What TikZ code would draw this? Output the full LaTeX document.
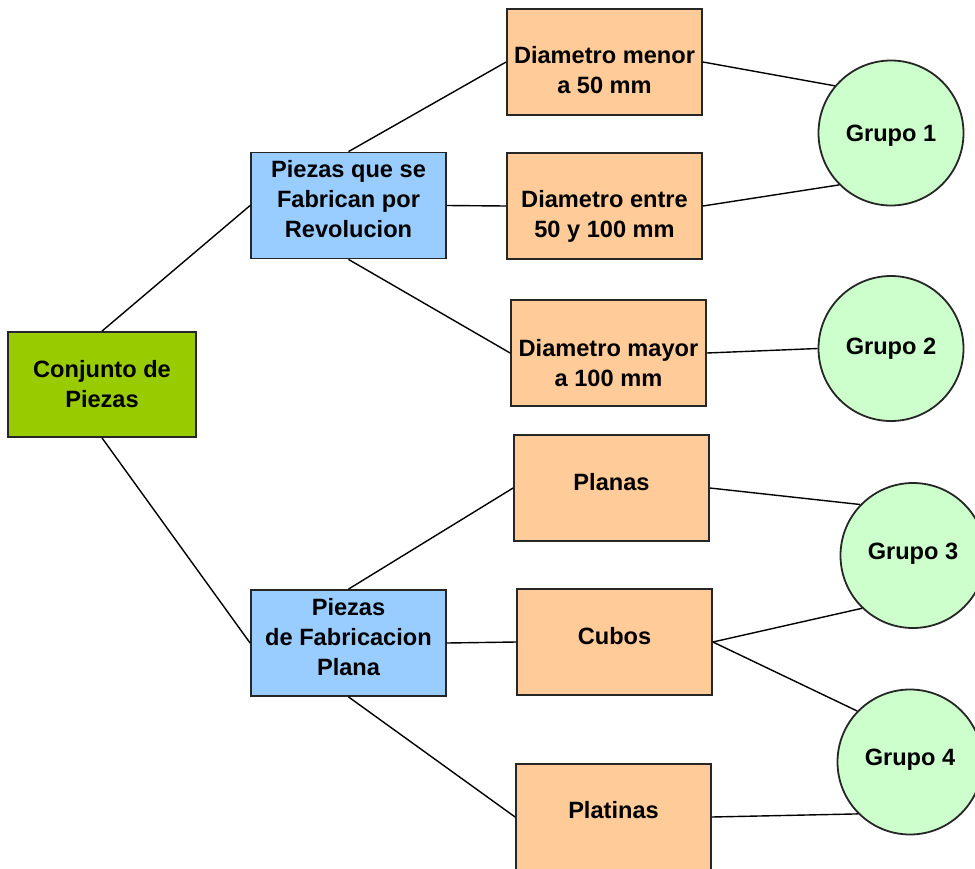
\documentclass[tikz,border=0pt]{standalone}
\usepackage{fontspec}
\setmainfont{Liberation Sans}
\usepackage{xcolor}
\definecolor{verde}{HTML}{99CC00}
\definecolor{azul}{HTML}{99CCFF}
\definecolor{naranja}{HTML}{FFCC99}
\definecolor{menta}{HTML}{CCFFCC}
% texto de una caja, subido o bajado un poco
\newcommand{\cajatxt}[2]{\raisebox{#1}[\height][\depth]{\begin{tabular}{@{}c@{}}#2\end{tabular}}}

\begin{document}
\begin{tikzpicture}[x=0.5pt,y=-0.5pt,
  caja/.style={draw=black!85,line width=0.9pt,inner sep=0pt,
    font=\fontsize{11.8}{15}\selectfont\bfseries},
  raiz/.style={caja,fill=verde,minimum width=94pt,minimum height=52.5pt},
  tipo/.style={caja,fill=azul,minimum width=97.5pt,minimum height=53pt},
  clase/.style={caja,fill=naranja,minimum width=97.5pt,minimum height=53pt},
  grupo/.style={caja,circle,fill=menta,minimum size=145pt*0.5},
  linea/.style={line width=0.7pt}]
\useasboundingbox (0,0) rectangle (975,868);

% raiz
\node[raiz] (conj) at (102,384.5) {\cajatxt{-1.2pt}{Conjunto de\\Piezas}};

% tipos de fabricacion
\node[tipo] (rev) at (348.5,205.5) {\cajatxt{1.8pt}{Piezas que se\\Fabrican por\\Revolucion}};
\node[tipo] (plana) at (348.5,643) {\cajatxt{2pt}{Piezas\\de Fabricacion\\Plana}};

% clases de piezas
\node[clase] (menor) at (604.5,62) {\cajatxt{-5.2pt}{Diametro menor\\a 50 mm}};
\node[clase] (entre) at (604.5,206) {\cajatxt{-5.2pt}{Diametro entre\\50 y 100 mm}};
\node[clase] (mayor) at (608.5,353) {\cajatxt{-6pt}{Diametro mayor\\a 100 mm}};
\node[clase] (planas) at (611.5,488) {\cajatxt{1.8pt}{Planas}};
\node[clase] (cubos) at (614.5,642) {\cajatxt{1.8pt}{Cubos}};
\node[clase] (platinas) at (613.5,817) {\cajatxt{2.3pt}{Platinas}};

% grupos
\node[grupo] (g1) at (891,133) {\cajatxt{-1.2pt}{Grupo 1}};
\node[grupo] (g2) at (891,348.5) {\cajatxt{-0.2pt}{Grupo 2}};
\node[grupo] (g3) at (913,555.5) {\cajatxt{1pt}{Grupo 3}};
\node[grupo] (g4) at (910,762) {\cajatxt{1.3pt}{Grupo 4}};

% raiz a tipos
\draw[linea] (conj.north)--(rev.west);
\draw[linea] (conj.south)--(plana.west);

% tipos a clases
\draw[linea] (rev.north)--(menor.west);
\draw[linea] (rev.east)--(entre.west);
\draw[linea] (rev.south)--(mayor.west);

\draw[linea] (plana.north)--(planas.west);
\draw[linea] (plana.east)--(cubos.west);
\draw[linea] (plana.south)--(platinas.west);

% clases a grupos
\draw[linea] (menor.east)--(g1.140);
\draw[linea] (entre.east)--(g1.225);
\draw[linea] (mayor.east)--(g2.west);
\draw[linea] (planas.east)--(g3.136);
\draw[linea] (cubos.east)--(g3.226);
\draw[linea] (cubos.east)--(g4.136);
\draw[linea] (platinas.east)--(g4.225);
\end{tikzpicture}
\end{document}
